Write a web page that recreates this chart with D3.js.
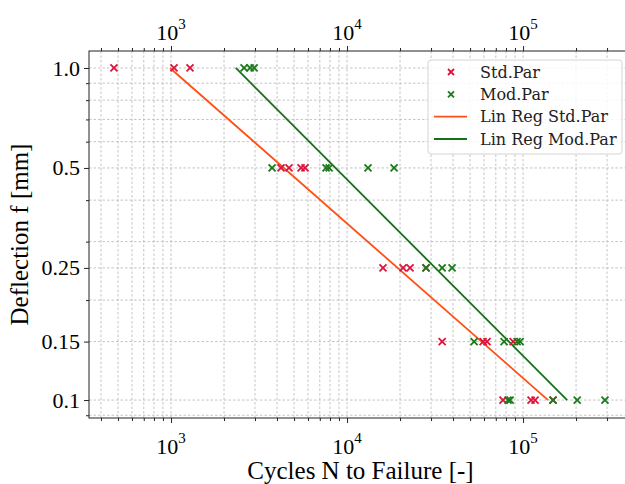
<!DOCTYPE html>
<html lang="en">
<head>
<meta charset="UTF-8">
<title>Deflection vs cycles</title>
<script src="https://cdn.jsdelivr.net/npm/d3@7/dist/d3.min.js"></script>
<style>
  body{ margin:0; background:#fff; }
  .axis text{ font-family:"Liberation Serif","Times New Roman",serif; font-size:22px; fill:#000; }
  .axis path, .axis line{ stroke:#222; }
  .grid line{ stroke:#b5b5b5; stroke-width:0.8; stroke-dasharray:2.5,2; }
  .label{ font-family:"Liberation Serif","Times New Roman",serif; font-size:25px; fill:#000; }
  .legend text{ font-family:"DejaVu Serif",serif; font-size:16px; fill:#222; }
</style>
</head>
<body>
<div id="canvas"></div>
<script>
// Std.Par measurements (cycles, deflection mm)
var stdN = [474, 1040, 1282,
            4217, 4680, 5480, 5770,
            16000, 20800, 22800, 28100,
            34700, 59300, 62400, 87800,
            76900, 111000, 117000, 148000];
var stdF = [1.0, 1.0, 1.0,
            0.5, 0.5, 0.5, 0.5,
            0.25, 0.25, 0.25, 0.25,
            0.15, 0.15, 0.15, 0.15,
            0.1, 0.1, 0.1, 0.1];

// Mod.Par measurements
var modN = [2600, 2813, 2966,
            3750, 7600, 7910, 13160, 18500,
            28100, 34700, 39500,
            52700, 78000, 92500, 96200,
            82200, 84400, 148000, 203000, 292000];
var modF = [1.0, 1.0, 1.0,
            0.5, 0.5, 0.5, 0.5, 0.5,
            0.25, 0.25, 0.25,
            0.15, 0.15, 0.15, 0.15,
            0.1, 0.1, 0.1, 0.1, 0.1];

// regression lines (end points)
var regStdN = [987, 138700];
var regStdF = [1.0, 0.1];
var regModN = [2333, 178000];
var regModF = [1.0, 0.1];

// ticks
var xMajor = [1e3, 1e4, 1e5];
var yLabels = [0.1, 0.15, 0.25, 0.5, 1.0];
var yLabelText = ["0.1", "0.15", "0.25", "0.5", "1.0"];

var legendNames = ["Std.Par", "Mod.Par", "Lin Reg Std.Par", "Lin Reg Mod.Par"];

var colStd = "#dc143c", colMod = "#1a7a1a", colRegStd = "#ff4f14", colRegMod = "#16701a";

var W = 625, H = 484;
var pLeft = 89, pRight = 630, pTop = 51, pBottom = 418;

var x = d3.scaleLog().domain([342, 405000]).range([pLeft, pRight]);
var y = d3.scaleLog().domain([0.0883, 1.125]).range([pBottom, pTop]);

var xMinor = x.ticks().filter(function(v){ return xMajor.indexOf(v) < 0; });
var yAll = y.ticks();
var yMinor = yAll.filter(function(v){
  return !yLabels.some(function(l){ return Math.abs(l - v) < 1e-9; });
});

var svg = d3.select("#canvas").append("svg")
  .attr("width", W).attr("height", H);

// grid
var grid = svg.append("g").attr("class", "grid");
grid.selectAll(".gx").data(x.ticks()).enter().append("line")
  .attr("x1", function(d){ return x(d); }).attr("x2", function(d){ return x(d); })
  .attr("y1", pTop).attr("y2", pBottom);
grid.selectAll(".gy").data(yAll.concat([0.15, 0.25])).enter().append("line")
  .attr("y1", function(d){ return y(d); }).attr("y2", function(d){ return y(d); })
  .attr("x1", pLeft).attr("x2", pRight);

// axes
function addX(gen, ty, vals, size){
  var g = svg.append("g").attr("class", "axis")
    .attr("transform", "translate(0," + ty + ")")
    .call(gen(x).tickValues(vals).tickSize(size).tickSizeOuter(0).tickFormat(""));
  g.select(".domain").remove();
  return g;
}
addX(d3.axisBottom, pBottom, xMajor, 5);
addX(d3.axisBottom, pBottom, xMinor, 3);
addX(d3.axisTop, pTop, xMajor, 5);
addX(d3.axisTop, pTop, xMinor, 3);

var ya = svg.append("g").attr("class", "axis").attr("transform", "translate(" + pLeft + ",0)")
  .call(d3.axisLeft(y).tickValues(yLabels).tickSize(5).tickSizeOuter(0)
    .tickFormat(function(d, i){ return yLabelText[i]; }).tickPadding(4));
ya.select(".domain").remove();
var ym = svg.append("g").attr("class", "axis").attr("transform", "translate(" + pLeft + ",0)")
  .call(d3.axisLeft(y).tickValues(yMinor).tickSize(3).tickSizeOuter(0).tickFormat(""));
ym.select(".domain").remove();

// power-of-ten labels, top and bottom
[pBottom + 36, pTop - 11].forEach(function(ty){
  var t = svg.append("g").attr("class", "axis").selectAll("text").data(xMajor).enter().append("text")
    .attr("x", function(d){ return x(d); })
    .attr("y", ty)
    .attr("text-anchor", "middle");
  t.append("tspan").text("10");
  t.append("tspan").attr("dy", -11).style("font-size", "15px")
    .text(function(d){ return Math.round(Math.log10(d)); });
});

// frame
svg.append("rect").attr("x", pLeft).attr("y", pTop)
  .attr("width", pRight - pLeft).attr("height", pBottom - pTop)
  .attr("fill", "none").attr("stroke", "#222").attr("stroke-width", 1);

// regression lines
var line = d3.line().x(function(d){ return x(d[0]); }).y(function(d){ return y(d[1]); });
svg.append("path").datum(d3.zip(regStdN, regStdF)).attr("d", line)
  .attr("fill", "none").attr("stroke", colRegStd).attr("stroke-width", 1.8);
svg.append("path").datum(d3.zip(regModN, regModF)).attr("d", line)
  .attr("fill", "none").attr("stroke", colRegMod).attr("stroke-width", 1.8);

// x markers
function cross(g, cx, cy, r, col){
  g.append("path")
    .attr("d", "M" + (cx - r) + "," + (cy - r) + "L" + (cx + r) + "," + (cy + r) +
               "M" + (cx - r) + "," + (cy + r) + "L" + (cx + r) + "," + (cy - r))
    .attr("stroke", col).attr("stroke-width", 1.8).attr("fill", "none");
}
var pts = svg.append("g");
stdN.forEach(function(n, i){ cross(pts, x(n), y(stdF[i]), 3.5, colStd); });
modN.forEach(function(n, i){ cross(pts, x(n), y(modF[i]), 3.5, colMod); });

// legend
var lg = svg.append("g").attr("class", "legend");
lg.append("rect").attr("x", 428).attr("y", 60).attr("width", 194).attr("height", 94)
  .attr("rx", 3).attr("fill", "#fff").attr("fill-opacity", 0.85)
  .attr("stroke", "#d4d4d4");
var rowY = [72, 94.3, 116.7, 139];
cross(lg, 451, rowY[0], 3, colStd);
cross(lg, 451, rowY[1], 3, colMod);
lg.append("line").attr("x1", 434).attr("x2", 467).attr("y1", rowY[2]).attr("y2", rowY[2])
  .attr("stroke", colRegStd).attr("stroke-width", 1.8);
lg.append("line").attr("x1", 434).attr("x2", 467).attr("y1", rowY[3]).attr("y2", rowY[3])
  .attr("stroke", colRegMod).attr("stroke-width", 1.8);
lg.selectAll(".lt").data(legendNames).enter().append("text")
  .attr("x", 480).attr("y", function(d, i){ return rowY[i]; })
  .attr("dy", "0.35em").text(function(d){ return d; });

// axis titles
svg.append("text").attr("class", "label")
  .attr("x", (pLeft + pRight) / 2 + 1).attr("y", 479).attr("text-anchor", "middle")
  .text("Cycles N to Failure [-]");
svg.append("text").attr("class", "label")
  .attr("transform", "translate(28," + ((pTop + pBottom) / 2) + ") rotate(-90)")
  .attr("text-anchor", "middle")
  .text("Deflection f [mm]");
</script>
</body>
</html>
